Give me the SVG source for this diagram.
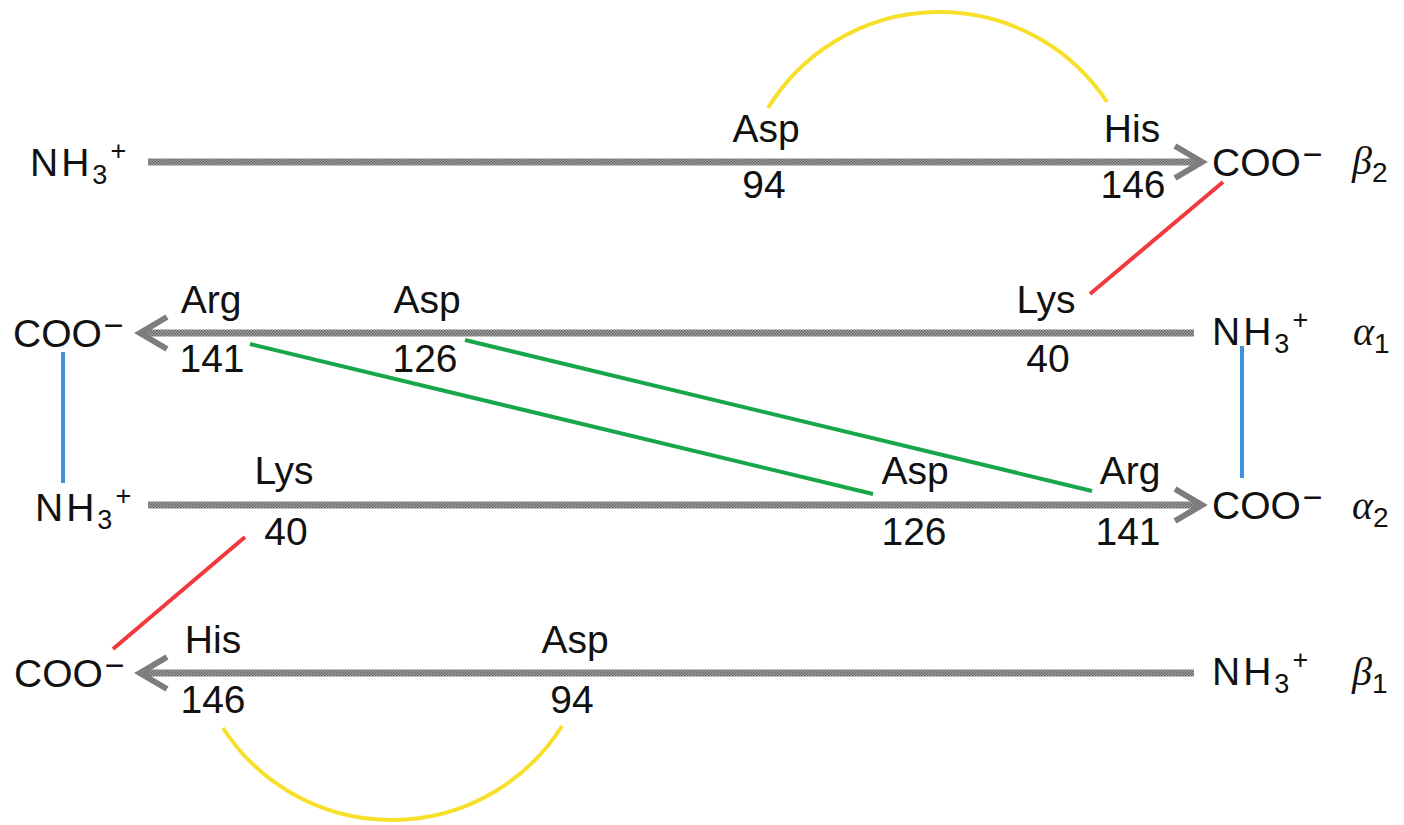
<svg xmlns="http://www.w3.org/2000/svg" width="1404" height="825" viewBox="0 0 1404 825">
  <defs>
    <!-- stippled grey texture for the polypeptide chain shafts -->
    <pattern id="stipple" width="3" height="3" patternUnits="userSpaceOnUse">
      <rect width="3" height="3" fill="#a4a4a4"/>
      <rect x="0" y="0" width="1.5" height="1.5" fill="#5f5f5f"/>
      <rect x="1.5" y="1.5" width="1.5" height="1.5" fill="#6a6a6a"/>
    </pattern>
    <style>
      .lbl { font-family: "Liberation Sans", Arial, sans-serif; font-size: 39px; fill: #111; }
      .mid { text-anchor: middle; }
      .sub { font-size: 27px; }
      .neg { font-size: 34px; }
      .greek { font-family: "Liberation Serif", "Times New Roman", serif; font-style: italic; font-size: 40px; fill: #111; }
      .idx { font-family: "Liberation Sans", Arial, sans-serif; font-style: normal; font-size: 28px; }
      .shaft { stroke: url(#stipple); stroke-width: 7; fill: none; }
      .head { stroke: #7d7d7d; stroke-width: 6; fill: none; stroke-linejoin: miter; }
      .bond { fill: none; stroke-width: 4; stroke-linecap: butt; }
      .yellow { stroke: #f6e02c; }
      .red { stroke: #f23a3e; }
      .blue { stroke: #3b93e0; }
      .green { stroke: #17a74a; }
    </style>
  </defs>
  <rect width="1404" height="825" fill="#ffffff"/>

  <!-- beta2 chain: N-terminus left, C-terminus right -->
  <g id="chain-beta2">
    <line class="shaft" x1="148" y1="162" x2="1196" y2="162"/>
    <polyline class="head" points="1175,146 1202,162 1175,178"/>
    <text class="lbl" x="30" y="176" letter-spacing="3">NH<tspan class="sub" dy="8">3</tspan><tspan class="sub" dy="-24">+</tspan></text>
    <text class="lbl" x="1212" y="176">COO<tspan class="neg" dx="2" dy="-10">−</tspan></text>
    <text class="greek" x="1352" y="174">β<tspan class="idx" dy="8">2</tspan></text>
  </g>

  <!-- alpha1 chain: runs right to left -->
  <g id="chain-alpha1">
    <line class="shaft" x1="145" y1="333" x2="1194" y2="333"/>
    <polyline class="head" points="167,317 140,333 167,349"/>
    <text class="lbl" x="13" y="347">COO<tspan class="neg" dx="2" dy="-10">−</tspan></text>
    <text class="lbl" x="1212" y="345" letter-spacing="3">NH<tspan class="sub" dy="8">3</tspan><tspan class="sub" dy="-24">+</tspan></text>
    <text class="greek" x="1353" y="345">α<tspan class="idx" dy="8">1</tspan></text>
  </g>

  <!-- alpha2 chain: runs left to right -->
  <g id="chain-alpha2">
    <line class="shaft" x1="148" y1="505" x2="1196" y2="505"/>
    <polyline class="head" points="1175,489 1202,505 1175,521"/>
    <text class="lbl" x="35" y="521" letter-spacing="3">NH<tspan class="sub" dy="8">3</tspan><tspan class="sub" dy="-24">+</tspan></text>
    <text class="lbl" x="1212" y="519">COO<tspan class="neg" dx="2" dy="-10">−</tspan></text>
    <text class="greek" x="1352" y="519">α<tspan class="idx" dy="8">2</tspan></text>
  </g>

  <!-- beta1 chain: runs right to left -->
  <g id="chain-beta1">
    <line class="shaft" x1="145" y1="673" x2="1194" y2="673"/>
    <polyline class="head" points="167,657 140,673 167,689"/>
    <text class="lbl" x="14" y="687">COO<tspan class="neg" dx="2" dy="-10">−</tspan></text>
    <text class="lbl" x="1212" y="685" letter-spacing="3">NH<tspan class="sub" dy="8">3</tspan><tspan class="sub" dy="-24">+</tspan></text>
    <text class="greek" x="1352" y="685">β<tspan class="idx" dy="8">1</tspan></text>
  </g>

  <!-- residues on beta2 -->
  <g id="b2-asp94">
    <text class="lbl mid" x="766" y="142">Asp</text>
    <text class="lbl mid" x="764" y="198">94</text>
  </g>
  <g id="b2-his146">
    <text class="lbl mid" x="1132" y="142">His</text>
    <text class="lbl mid" x="1133" y="198">146</text>
  </g>

  <!-- residues on alpha1 -->
  <g id="a1-arg141">
    <text class="lbl mid" x="211" y="313">Arg</text>
    <text class="lbl mid" x="212" y="372">141</text>
  </g>
  <g id="a1-asp126">
    <text class="lbl mid" x="427" y="313">Asp</text>
    <text class="lbl mid" x="425" y="372">126</text>
  </g>
  <g id="a1-lys40">
    <text class="lbl mid" x="1046" y="313">Lys</text>
    <text class="lbl mid" x="1048" y="372">40</text>
  </g>

  <!-- residues on alpha2 -->
  <g id="a2-lys40">
    <text class="lbl mid" x="284" y="484">Lys</text>
    <text class="lbl mid" x="286" y="545">40</text>
  </g>
  <g id="a2-asp126">
    <text class="lbl mid" x="915" y="484">Asp</text>
    <text class="lbl mid" x="914" y="545">126</text>
  </g>
  <g id="a2-arg141">
    <text class="lbl mid" x="1130" y="484">Arg</text>
    <text class="lbl mid" x="1128" y="545">141</text>
  </g>

  <!-- residues on beta1 -->
  <g id="b1-his146">
    <text class="lbl mid" x="213" y="653">His</text>
    <text class="lbl mid" x="213" y="713">146</text>
  </g>
  <g id="b1-asp94">
    <text class="lbl mid" x="575" y="653">Asp</text>
    <text class="lbl mid" x="572" y="713">94</text>
  </g>

  <!-- salt bridges between residues and termini -->
  <g id="connectors">
    <path class="bond yellow" d="M768,108 A201,201 0 0 1 1107,102"/>
    <path class="bond yellow" d="M223,728 A201,201 0 0 0 562,726"/>
    <line class="bond red" x1="1223" y1="182" x2="1090" y2="294"/>
    <line class="bond red" x1="245" y1="537" x2="113" y2="649"/>
    <line class="bond blue" x1="63" y1="352" x2="63" y2="483"/>
    <line class="bond blue" x1="1242" y1="346" x2="1242" y2="478"/>
    <line class="bond green" x1="250" y1="344" x2="873" y2="494"/>
    <line class="bond green" x1="465" y1="340" x2="1092" y2="491"/>
  </g>
</svg>
